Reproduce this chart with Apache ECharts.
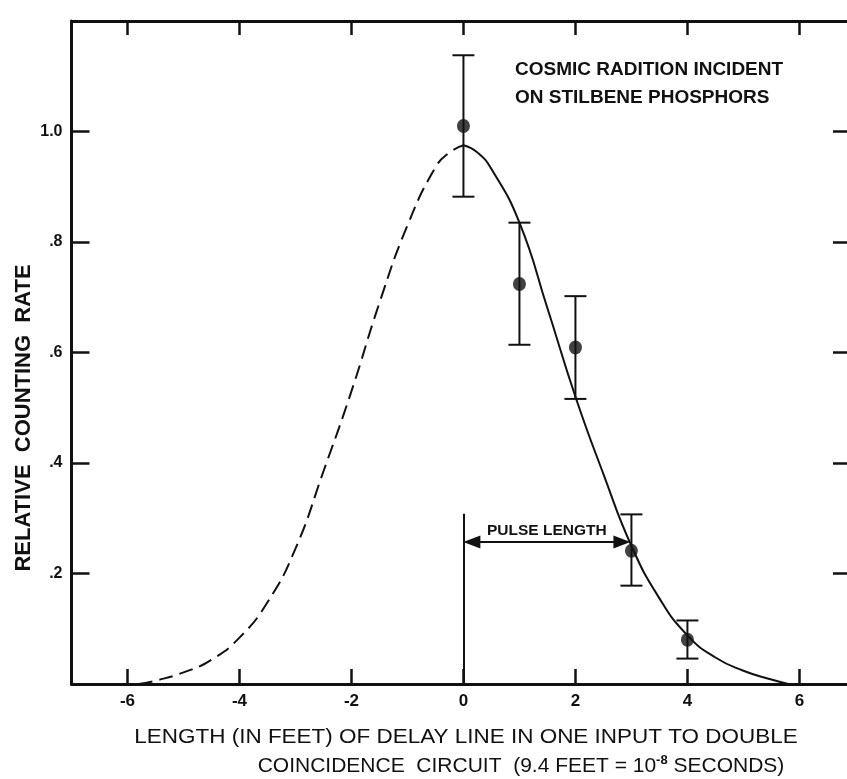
<!DOCTYPE html>
<html>
<head>
<meta charset="utf-8">
<title>Relative counting rate</title>
<script src="https://cdn.jsdelivr.net/npm/echarts@6/dist/echarts.min.js"></script>
<style>
  html, body { margin: 0; padding: 0; background: #fff; }
  #chart { width: 847px; height: 779px; }
</style>
</head>
<body>
<div id="chart"></div>
<script>
// curve: dashed left half, solid right half
const curveLeftX = [-5.8, -5.5, -5, -4.5, -4, -3.5, -3, -2.5, -2, -1.5, -1, -0.5, -0.25, 0];
const curveLeftY = [0, 0.006, 0.021, 0.044, 0.084, 0.148, 0.245, 0.385, 0.53, 0.69, 0.83, 0.935, 0.962, 0.975];
const curveRightX = [0, 0.25, 0.5, 1, 1.5, 2, 2.5, 3, 3.5, 4, 4.5, 5, 5.5, 5.8];
const curveRightY = [0.975, 0.962, 0.932, 0.835, 0.68, 0.52, 0.38, 0.25, 0.155, 0.088, 0.048, 0.024, 0.008, 0];

// measured points and their error bars
const pointX = [0, 1, 2, 3, 4];
const pointY = [1.01, 0.724, 0.609, 0.241, 0.08];
const errLow = [0.882, 0.614, 0.516, 0.178, 0.046];
const errHigh = [1.138, 0.835, 0.702, 0.307, 0.115];

const xTicks = [-6, -4, -2, 0, 2, 4, 6];
const yTicks = [0.2, 0.4, 0.6, 0.8, 1.0];
const yTickLabels = ['.2', '.4', '.6', '.8', '1.0'];

// pulse length marker (arrow runs from x=0 to about x=3)
const pulseLineX = 0;
const pulseLineTop = 0.308;
const pulseArrowY = 0.257;
const pulseArrowStart = 0.15;
const pulseArrowEnd = 2.83;

const ink = '#111';
const font = 'Liberation Sans, Arial, sans-serif';

const chart = echarts.init(document.getElementById('chart'));

function renderErrorBar(params, api) {
  const x = api.value(0);
  const lo = api.coord([x, api.value(1)]);
  const hi = api.coord([x, api.value(2)]);
  const w = 11;
  const style = { stroke: ink, lineWidth: 2 };
  return {
    type: 'group',
    children: [
      { type: 'line', shape: { x1: lo[0], y1: lo[1], x2: hi[0], y2: hi[1] }, style: style },
      { type: 'line', shape: { x1: lo[0] - w, y1: lo[1], x2: lo[0] + w, y2: lo[1] }, style: style },
      { type: 'line', shape: { x1: hi[0] - w, y1: hi[1], x2: hi[0] + w, y2: hi[1] }, style: style }
    ]
  };
}

const frameLine = { onZero: false, lineStyle: { color: ink, width: 3 } };
const tickStyle = { color: ink, width: 2.5 };

const option = {
  backgroundColor: '#fff',
  animation: false,
  // the frame runs past the right edge of the scan, so the x range stops at 6.85
  grid: { left: 71.5, top: 21, width: 775.5, height: 663 },
  xAxis: [
    {
      type: 'value', min: -7, max: 6.85, position: 'bottom',
      axisLine: frameLine,
      axisTick: { inside: true, length: 15, customValues: xTicks, lineStyle: tickStyle },
      axisLabel: {
        customValues: xTicks, margin: 9, color: ink,
        fontFamily: font, fontWeight: 'bold', fontSize: 17
      },
      splitLine: { show: false }
    },
    {
      type: 'value', min: -7, max: 6.85, position: 'top',
      axisLine: frameLine,
      axisTick: { inside: true, length: 14, customValues: xTicks, lineStyle: tickStyle },
      axisLabel: { show: false },
      splitLine: { show: false }
    }
  ],
  yAxis: [
    {
      type: 'value', min: 0, max: 1.2, position: 'left',
      axisLine: frameLine,
      axisTick: { inside: true, length: 18, customValues: yTicks, lineStyle: tickStyle },
      axisLabel: {
        customValues: yTicks, margin: 9, color: ink,
        fontFamily: font, fontWeight: 'bold', fontSize: 16,
        formatter: function (v) { return yTickLabels[yTicks.indexOf(v)] || ''; }
      },
      splitLine: { show: false }
    },
    {
      type: 'value', min: 0, max: 1.2, position: 'right',
      axisLine: { show: false, onZero: false },
      axisTick: { show: true, inside: true, length: 14, customValues: yTicks, lineStyle: tickStyle },
      axisLabel: { show: false },
      splitLine: { show: false }
    }
  ],
  series: [
    {
      name: 'extrapolated', type: 'line', smooth: true, showSymbol: false, silent: true,
      data: curveLeftX.map((x, i) => [x, curveLeftY[i]]),
      lineStyle: { color: ink, width: 2, type: [14, 7] }
    },
    {
      name: 'fit', type: 'line', smooth: true, showSymbol: false, silent: true,
      data: curveRightX.map((x, i) => [x, curveRightY[i]]),
      lineStyle: { color: ink, width: 2 }
    },
    {
      name: 'error', type: 'custom', silent: true,
      renderItem: renderErrorBar,
      encode: { x: 0, y: [1, 2] },
      data: pointX.map((x, i) => [x, errLow[i], errHigh[i]]),
      z: 3
    },
    {
      name: 'measured', type: 'scatter', silent: true,
      symbol: 'circle', symbolSize: [13, 14],
      itemStyle: { color: ink },
      data: pointX.map((x, i) => [x, pointY[i]]),
      z: 4,
      markLine: {
        silent: true, animation: false,
        lineStyle: { color: ink, width: 2, type: 'solid' },
        symbolSize: [13, 17],
        data: [
          [
            { coord: [pulseLineX, 0], symbol: 'none' },
            { coord: [pulseLineX, pulseLineTop], symbol: 'none', label: { show: false } }
          ],
          [
            { coord: [pulseArrowStart, pulseArrowY], symbol: 'triangle' },
            {
              coord: [pulseArrowEnd, pulseArrowY], symbol: 'triangle',
              label: {
                show: true, position: 'insideMiddleTop', formatter: 'PULSE LENGTH',
                color: ink, fontFamily: font, fontWeight: 'bold', fontSize: 15.5, distance: 3
              }
            }
          ]
        ]
      }
    }
  ],
  graphic: [
    {
      type: 'text', x: 515, y: 70,
      style: { text: 'COSMIC RADITION INCIDENT', fill: ink, font: 'bold 19px ' + font, textAlign: 'left', textVerticalAlign: 'middle' }
    },
    {
      type: 'text', x: 515, y: 98,
      style: { text: 'ON STILBENE PHOSPHORS', fill: ink, font: 'bold 19px ' + font, textAlign: 'left', textVerticalAlign: 'middle' }
    },
    {
      type: 'text', x: 24, y: 418, rotation: Math.PI / 2,
      style: { text: 'RELATIVE  COUNTING  RATE', fill: ink, font: 'bold 22px ' + font, textAlign: 'center', textVerticalAlign: 'middle' }
    },
    {
      type: 'text', x: 466, y: 737, scaleX: 1.07,
      style: { text: 'LENGTH (IN FEET) OF DELAY LINE IN ONE INPUT TO DOUBLE', fill: ink, font: '21px ' + font, textAlign: 'center', textVerticalAlign: 'middle' }
    },
    {
      type: 'text', x: 521, y: 766,
      style: {
        text: '{t|COINCIDENCE  CIRCUIT  (9.4 FEET = 10}{s|-8}{t| SECONDS)}',
        fill: ink, textAlign: 'center', textVerticalAlign: 'middle',
        rich: {
          t: { fontFamily: font, fontSize: 21, fill: ink, lineHeight: 24 },
          s: { fontFamily: font, fontSize: 13, fontWeight: 'bold', fill: ink, verticalAlign: 'top', lineHeight: 24 }
        }
      }
    }
  ]
};

chart.setOption(option);
</script>
</body>
</html>
